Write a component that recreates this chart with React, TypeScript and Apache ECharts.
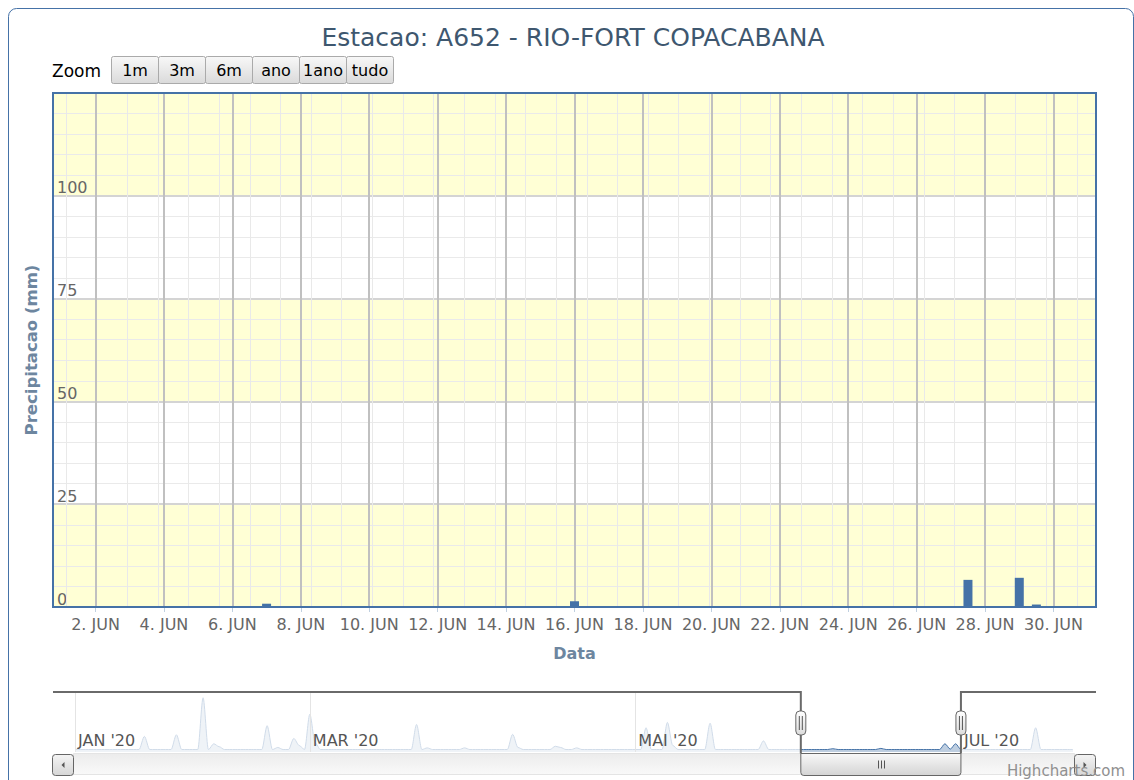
import React, { useEffect, useRef } from "react";
import * as echarts from "echarts";

// ---------- texts ----------
const TITLE = "Estacao: A652 - RIO-FORT COPACABANA";
const Y_NAME = "Precipitacao (mm)";
const X_NAME = "Data";
const ZOOM_LABEL = "Zoom";
const ZOOM_BUTTONS = ["1m", "3m", "6m", "ano", "1ano", "tudo"];
const MONTHS_PT = ["JAN", "FEV", "MAR", "ABR", "MAI", "JUN", "JUL", "AGO", "SET", "OUT", "NOV", "DEZ"];
const CREDIT = "Highcharts.com";

// ---------- main chart data (12-hour groups, mm) ----------
const BAR_TIMES = [
  "2020-06-07T00:00:00Z",
  "2020-06-16T00:00:00Z",
  "2020-06-27T12:00:00Z",
  "2020-06-29T00:00:00Z",
  "2020-06-29T12:00:00Z",
];
const BAR_VALUES = [0.8, 1.4, 6.6, 7.1, 0.6];

const X_MIN = "2020-05-31T18:11:00Z";
const X_MAX = "2020-07-01T05:49:00Z";
const MAJOR_TICK_DAYS = [2, 4, 6, 8, 10, 12, 14, 16, 18, 20, 22, 24, 26, 28, 30];
const MINOR_GRID_START = "2020-06-01T03:18:00Z";
const MINOR_GRID_STEP_HOURS = 21.49;
const Y_MIN = 0;
const Y_MAX = 125;
const Y_STEP = 25;

// ---------- navigator data (daily, mm) ----------
const NAV_RANGES = [
  ["2020-01-01", "2020-01-28"],
  ["2020-02-14", "2020-07-22"],
];
const NAV_PEAK_DATES = [
  "2020-01-14", "2020-01-20", "2020-01-25", "2020-01-27", "2020-01-28",
  "2020-02-22", "2020-02-24", "2020-02-27", "2020-02-28", "2020-03-01",
  "2020-03-02", "2020-03-21", "2020-03-23", "2020-03-30", "2020-04-08",
  "2020-04-09", "2020-04-16", "2020-04-17", "2020-04-20", "2020-05-03",
  "2020-05-07", "2020-05-08", "2020-05-15", "2020-05-25", "2020-06-07",
  "2020-06-16", "2020-06-28", "2020-06-29", "2020-06-30", "2020-07-15",
];
const NAV_PEAK_VALUES = [
  16, 18, 63, 7, 3.5,
  29, 2.5, 13.5, 5, 43,
  8, 30.5, 2, 2, 18.5,
  2.5, 4, 2.5, 2, 26.5,
  33, 5, 32, 10.5, 1,
  1.4, 7, 0.5, 7, 26.5,
];
const NAV_SELECTED = ["2020-06-01", "2020-07-01"];
const NAV_LABEL_DATES = ["2020-01-01", "2020-03-01", "2020-05-01", "2020-07-01"];
const NAV_Y_MIN = -3;
const NAV_Y_MAX = 70;

const FONT = "'DejaVu Sans', sans-serif";
const DAY = 86400000;

function expandDates(ranges: string[][]): string[] {
  const out: string[] = [];
  ranges.forEach(([a, b]) => {
    let t = Date.parse(a + "T00:00:00Z");
    const end = Date.parse(b + "T00:00:00Z");
    while (t <= end) {
      out.push(new Date(t).toISOString().slice(0, 10));
      t += DAY;
    }
  });
  return out;
}

export default function App() {
  const ref = useRef<HTMLDivElement>(null);

  useEffect(() => {
    if (!ref.current) return;
    const chart = echarts.init(ref.current, undefined, { renderer: "svg" });

    const xMin = Date.parse(X_MIN);
    const xMax = Date.parse(X_MAX);
    const majorTicks = MAJOR_TICK_DAYS.map((d) => Date.UTC(2020, 5, d));
    const minorTicks: number[] = [];
    for (let t = Date.parse(MINOR_GRID_START); t <= xMax; t += MINOR_GRID_STEP_HOURS * 3600000) {
      minorTicks.push(t);
    }
    const barData = BAR_TIMES.map((s, i) => [Date.parse(s), BAR_VALUES[i]]);

    const navDates = expandDates(NAV_RANGES);
    const peakMap: Record<string, number> = {};
    NAV_PEAK_DATES.forEach((d, i) => (peakMap[d] = NAV_PEAK_VALUES[i]));
    const navValues = navDates.map((d) => (d in peakMap ? peakMap[d] : 0));

    // layout
    const PLOT = { left: 53, top: 93, width: 1043, height: 514 };
    const NAV = { left: 75, top: 692, width: 998, height: 60 };
    const navOuterL = 53;
    const navOuterR = 1096;
    const step = NAV.width / (navDates.length - 1);
    const selL = NAV.left + navDates.indexOf(NAV_SELECTED[0]) * step;
    const selR = NAV.left + navDates.indexOf(NAV_SELECTED[1]) * step;
    const sbTop = 753.5;
    const sbH = 21;

    const grad = (a: string, b: string) =>
      new echarts.graphic.LinearGradient(0, 0, 0, 1, [
        { offset: 0, color: a },
        { offset: 1, color: b },
      ]);

    const els: any[] = [];
    // outer container border
    els.push({
      type: "rect", silent: true, z: 0,
      shape: { x: 8.5, y: 8.5, width: 1125, height: 900, r: 8 },
      style: { fill: "none", stroke: "#4572A7", lineWidth: 1 },
    });
    // zoom label + buttons
    els.push({
      type: "text", x: 52, y: 71, z: 1,
      style: { text: ZOOM_LABEL, fill: "#000", fontSize: 17, fontFamily: FONT, verticalAlign: "middle", align: "left" },
    });
    ZOOM_BUTTONS.forEach((b, i) => {
      const x = 111.5 + i * 47;
      els.push({
        type: "rect", z: 1,
        shape: { x, y: 56.5, width: 47, height: 27, r: 2 },
        style: { fill: grad("#f8f8f8", "#dadada"), stroke: "#aaaaaa", lineWidth: 1 },
      });
      els.push({
        type: "text", x: x + 23.5, y: 70, z: 2,
        style: { text: b, fill: "#000", fontSize: 16, fontFamily: FONT, align: "center", verticalAlign: "middle" },
      });
    });
    // plot border
    els.push({
      type: "rect", silent: true, z: 10,
      shape: { x: PLOT.left, y: PLOT.top, width: PLOT.width, height: PLOT.height },
      style: { fill: "none", stroke: "#4572A7", lineWidth: 2 },
    });
    // navigator mask
    els.push({
      type: "rect", silent: true, z: 3,
      shape: { x: navOuterL, y: NAV.top + 1, width: selL - navOuterL, height: NAV.height },
      style: { fill: "rgba(255,255,255,0.75)" },
    });
    els.push({
      type: "rect", silent: true, z: 3,
      shape: { x: selR, y: NAV.top + 1, width: navOuterR - selR, height: NAV.height },
      style: { fill: "rgba(255,255,255,0.75)" },
    });
    // scrollbar track
    els.push({
      type: "rect", silent: true, z: 8,
      shape: { x: 73.5, y: sbTop, width: 1074.5 - 73.5, height: sbH },
      style: { fill: grad("#ececec", "#f9f9f9"), stroke: "#e4e4e4", lineWidth: 1 },
    });
    // scrollbar buttons
    [52.5, 1074.5].forEach((bx, k) => {
      els.push({
        type: "rect", silent: true, z: 9,
        shape: { x: bx, y: sbTop + 1, width: 21, height: sbH, r: 3 },
        style: { fill: grad("#f4f4f4", "#d6d6d6"), stroke: "#666", lineWidth: 1 },
      });
      const cx = bx + 10.5;
      const cy = sbTop + 1 + sbH / 2;
      els.push({
        type: "polygon", silent: true, z: 10,
        shape: {
          points: k === 0
            ? [[cx + 1.5, cy - 3], [cx - 1.5, cy], [cx + 1.5, cy + 3]]
            : [[cx - 1.5, cy - 3], [cx + 1.5, cy], [cx - 1.5, cy + 3]],
        },
        style: { fill: "#555" },
      });
    });
    // scrollbar thumb
    els.push({
      type: "rect", silent: true, z: 11,
      shape: { x: selL, y: sbTop, width: selR - selL, height: sbH + 1, r: [0, 0, 3, 3] },
      style: { fill: grad("#f8f8f8", "#d4d4d4"), stroke: "#666", lineWidth: 1 },
    });
    const mid = Math.round((selL + selR) / 2) + 0.5;
    [-3, 0, 3].forEach((dx) => {
      els.push({
        type: "line", silent: true, z: 12,
        shape: { x1: mid + dx, y1: sbTop + 7, x2: mid + dx, y2: sbTop + 15 },
        style: { stroke: "#555", lineWidth: 1 },
      });
    });
    // navigator outline
    els.push({
      type: "polyline", silent: true, z: 12,
      shape: { points: [[navOuterL, NAV.top], [selL, NAV.top], [selL, sbTop]] },
      style: { stroke: "#6a6a6a", lineWidth: 2, fill: "none" },
    });
    els.push({
      type: "polyline", silent: true, z: 12,
      shape: { points: [[selR, sbTop], [selR, NAV.top], [navOuterR, NAV.top]] },
      style: { stroke: "#6a6a6a", lineWidth: 2, fill: "none" },
    });
    // handles
    [selL, selR].forEach((hx) => {
      els.push({
        type: "rect", silent: true, z: 13,
        shape: { x: hx - 5, y: 711, width: 10, height: 24, r: 4 },
        style: { fill: grad("#ffffff", "#dcdcdc"), stroke: "#666", lineWidth: 1 },
      });
      [-1.5, 1.5].forEach((dx) => {
        els.push({
          type: "line", silent: true, z: 14,
          shape: { x1: hx + dx, y1: 716, x2: hx + dx, y2: 730 },
          style: { stroke: "#555", lineWidth: 1 },
        });
      });
    });
    // credit
    els.push({
      type: "text", silent: true, z: 20, x: 1125, y: 771,
      style: { text: CREDIT, fill: "#909090", fontSize: 15, fontFamily: FONT, align: "right", verticalAlign: "middle" },
    });

    const navLabelShown = (_i: number, v: string) => NAV_LABEL_DATES.indexOf(v) >= 0;

    const option: any = {
      animation: false,
      textStyle: { fontFamily: FONT },
      title: {
        text: TITLE,
        left: 573,
        textAlign: "center",
        top: 25,
        padding: 0,
        textStyle: { color: "#3E576F", fontSize: 25, fontWeight: "normal", fontFamily: FONT },
      },
      grid: [
        { left: PLOT.left, top: PLOT.top, width: PLOT.width, height: PLOT.height },
        { left: NAV.left, top: NAV.top, width: NAV.width, height: NAV.height },
      ],
      xAxis: [
        {
          type: "value", gridIndex: 0, min: xMin, max: xMax, z: 2,
          name: X_NAME, nameLocation: "middle", nameGap: 38,
          nameTextStyle: { color: "#6D869F", fontWeight: "bold", fontSize: 16, fontFamily: FONT },
          axisLine: { show: false },
          axisTick: { show: true, length: 5, lineStyle: { color: "#C0D0E0", width: 1 }, customValues: majorTicks },
          axisLabel: {
            customValues: majorTicks,
            color: "#666", fontSize: 16, margin: 9, fontFamily: FONT,
            formatter: (v: number) => {
              const d = new Date(v);
              return d.getUTCDate() + ". " + MONTHS_PT[d.getUTCMonth()];
            },
          },
          splitLine: { show: true, lineStyle: { color: "#C0C0C0", width: 2 } },
        },
        {
          type: "value", gridIndex: 0, min: xMin, max: xMax, z: 1, position: "top",
          axisLine: { show: false },
          axisTick: { show: false, customValues: minorTicks },
          axisLabel: { show: false, customValues: minorTicks },
          splitLine: { show: true, lineStyle: { color: "#E9E9E9", width: 1 } },
        },
        {
          type: "category", gridIndex: 1, data: navDates, boundaryGap: false, z: 5,
          axisLine: { show: false },
          axisTick: { show: false },
          axisLabel: {
            inside: true, interval: navLabelShown, align: "left", margin: 4,
            padding: [0, 0, 0, 3], color: "#555", fontSize: 16, fontFamily: FONT,
            formatter: (v: string) => MONTHS_PT[parseInt(v.slice(5, 7), 10) - 1] + " '" + v.slice(2, 4),
          },
          splitLine: { show: true, interval: navLabelShown, lineStyle: { color: "#E4E4E4", width: 1 } },
        },
      ],
      yAxis: [
        {
          type: "value", gridIndex: 0, min: Y_MIN, max: Y_MAX, interval: Y_STEP, z: 0,
          name: Y_NAME, nameLocation: "middle", nameGap: 13,
          nameTextStyle: { color: "#6D869F", fontWeight: "bold", fontSize: 16.5, fontFamily: FONT },
          axisLine: { show: false },
          axisTick: { show: false },
          axisLabel: {
            inside: true, margin: 4, verticalAlign: "bottom", color: "#666", fontSize: 16, fontFamily: FONT,
            formatter: (v: number) => (v === Y_MAX ? "" : String(v)),
          },
          splitLine: { show: true, lineStyle: { color: "#D4D4D4", width: 2 } },
          minorTick: { show: false, splitNumber: 5 },
          minorSplitLine: { show: true, lineStyle: { color: "#EAEAEA", width: 1 } },
          splitArea: { show: true, areaStyle: { color: ["#FFFFD5", "#FFFFFF"] } },
        },
        { type: "value", gridIndex: 1, min: NAV_Y_MIN, max: NAV_Y_MAX, show: false },
      ],
      series: [
        {
          type: "bar", xAxisIndex: 0, yAxisIndex: 0, data: barData, barWidth: 9, z: 6,
          itemStyle: { color: "#4572A7" },
        },
        {
          type: "line", xAxisIndex: 2, yAxisIndex: 1, data: navValues, z: 2,
          smooth: 0.3, smoothMonotone: "x", symbol: "none",
          lineStyle: { color: "#4572A7", width: 1 },
          areaStyle: { color: "#4572A7", opacity: 0.35, origin: "start" },
        },
      ],
      graphic: { elements: els },
    };

    chart.setOption(option);
    return () => chart.dispose();
  }, []);

  return (
    <div
      ref={ref}
      style={{ position: "fixed", left: 0, top: 0, width: 1134, height: 780, background: "#fff" }}
    />
  );
}
